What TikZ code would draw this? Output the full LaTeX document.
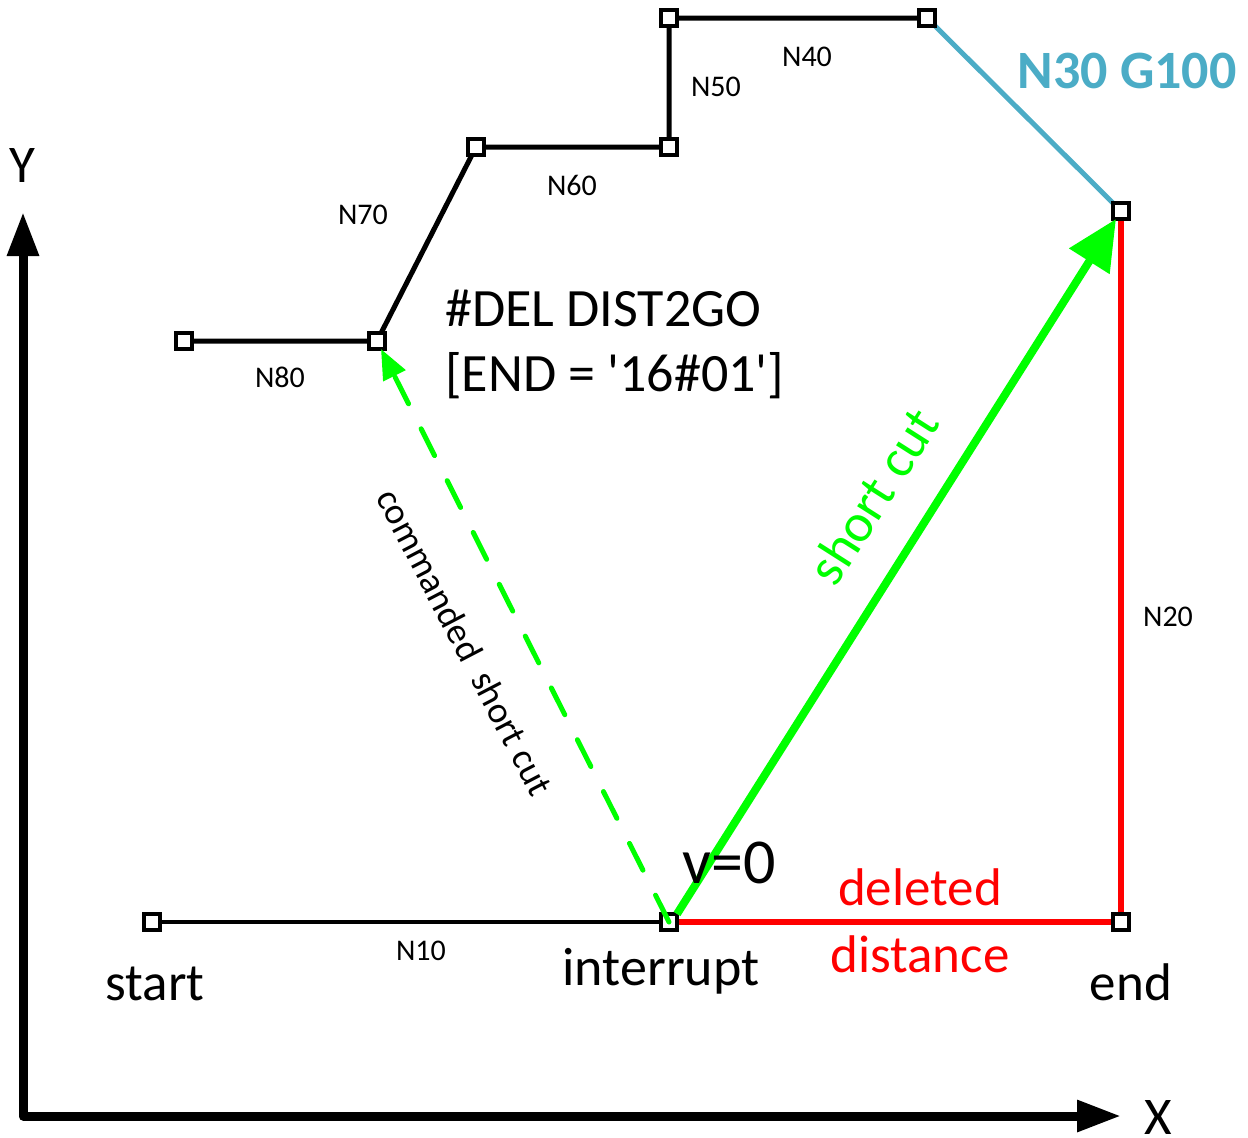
\documentclass[tikz,border=0pt]{standalone}
\usepackage{fontspec}
\setmainfont{Carlito}[Ligatures=TeXOff]
\usetikzlibrary{arrows.meta}
\definecolor{gr}{RGB}{0,255,0}
\definecolor{bl}{RGB}{75,172,198}
\definecolor{rd}{RGB}{255,0,0}
\begin{document}
\begin{tikzpicture}[x=1pt,y=-1pt,
  pt/.style={draw=black,fill=white,line width=4pt,minimum size=16pt,inner sep=0pt,outer sep=0pt},
  small/.style={font=\fontsize{30}{36}\selectfont,inner sep=0pt,anchor=base},
  big/.style={font=\fontsize{53}{65}\selectfont,inner sep=0pt,anchor=base},
  blackseg/.style={line width=5pt,line join=round},
  axis/.style={line width=9pt,line join=round,{Triangle[length=44pt,width=30pt]}-{Triangle[length=44pt,width=30pt]}},
]
\useasboundingbox (0,0) rectangle (1248,1138);
% coordinates
\coordinate (o) at (23,1116);
\coordinate (ytip) at (23,212);
\coordinate (xtip) at (1121,1116);
% axes
\draw[axis] (xtip) -- (o) -- (ytip);
% points
\path (152,922) coordinate (pS)
      (669,922) coordinate (pI)
      (1121,922) coordinate (pE)
      (1121,211) coordinate (pC)
      (927,18) coordinate (p30)
      (669,18) coordinate (p40)
      (669,147) coordinate (p50)
      (476,147) coordinate (p60)
      (377,341) coordinate (p70)
      (184,341) coordinate (p80);
% segments
\draw[line width=4pt] (pS) -- (pI);
\draw[rd,line width=6.5pt] (pI) -- (pE) -- (pC);
\draw[bl,line width=5pt] (pC) -- (p30);
\draw[blackseg] (p30) -- (p40) -- (p50) -- (p60) -- (p70) -- (p80);
% squares
\foreach \n in {pS,pI,pE,pC,p30,p40,p50,p60,p70,p80}
  \node[pt] (s\n) at (\n) {};
% green arrows
\draw[gr,line width=5pt,line cap=round,dash pattern=on 30pt off 28pt,
  -{Triangle[length=30pt,width=24pt]}] (spI.center) -- (sp70);
\draw[gr,line width=8pt,-{Triangle[length=50pt,width=46pt]}] (spI.north east) -- (spC);
% labels
\node[big] (ly) at (22,182) {Y};
\node[big] (lx) at (1158,1134) {X};
\node[big] (lstart) at (155,1000) {start};
\node[font=\fontsize{54}{65}\selectfont,inner sep=0pt,anchor=base] (lint) at (661,985) {interrupt};
\node[big] (lend) at (1131,1000) {end};
\node[small] (n10) at (421,960) {N10};
\node[small] (n20) at (1168,626) {N20};
\node[small] (n80) at (280,387) {N80};
\node[small] (n70) at (363,224) {N70};
\node[small] (n60) at (572,195) {N60};
\node[small] (n50) at (716,96) {N50};
\node[small] (n40) at (807,66) {N40};
\node[font=\fontsize{54}{64}\selectfont\bfseries,text=bl,inner sep=0pt,anchor=base] (n30) at (1127,88) {N30 G100};
\node[font=\fontsize{54}{65}\selectfont,inner sep=0pt,anchor=base west] (del1) at (445,326) {\#DEL DIST2GO};
\node[font=\fontsize{54}{65}\selectfont,inner sep=0pt,anchor=base west] (del2) at (445,391) {[END = '16\#01']};
\node[font=\fontsize{64}{76}\selectfont,inner sep=0pt,anchor=base] (v0) at (729,883) {v=0};
\node[big,text=rd] (dd1) at (920,905) {deleted};
\node[big,text=rd] (dd2) at (920,972) {distance};
\node[font=\fontsize{54}{65}\selectfont,text=gr,inner sep=0pt,rotate=57.5] (sc) at (873,496) {short cut};
\node[font=\fontsize{37}{44}\selectfont,inner sep=0pt,rotate=-62.5] (csc) at (465,642) {commanded\ \ short cut};
\end{tikzpicture}
\end{document}
